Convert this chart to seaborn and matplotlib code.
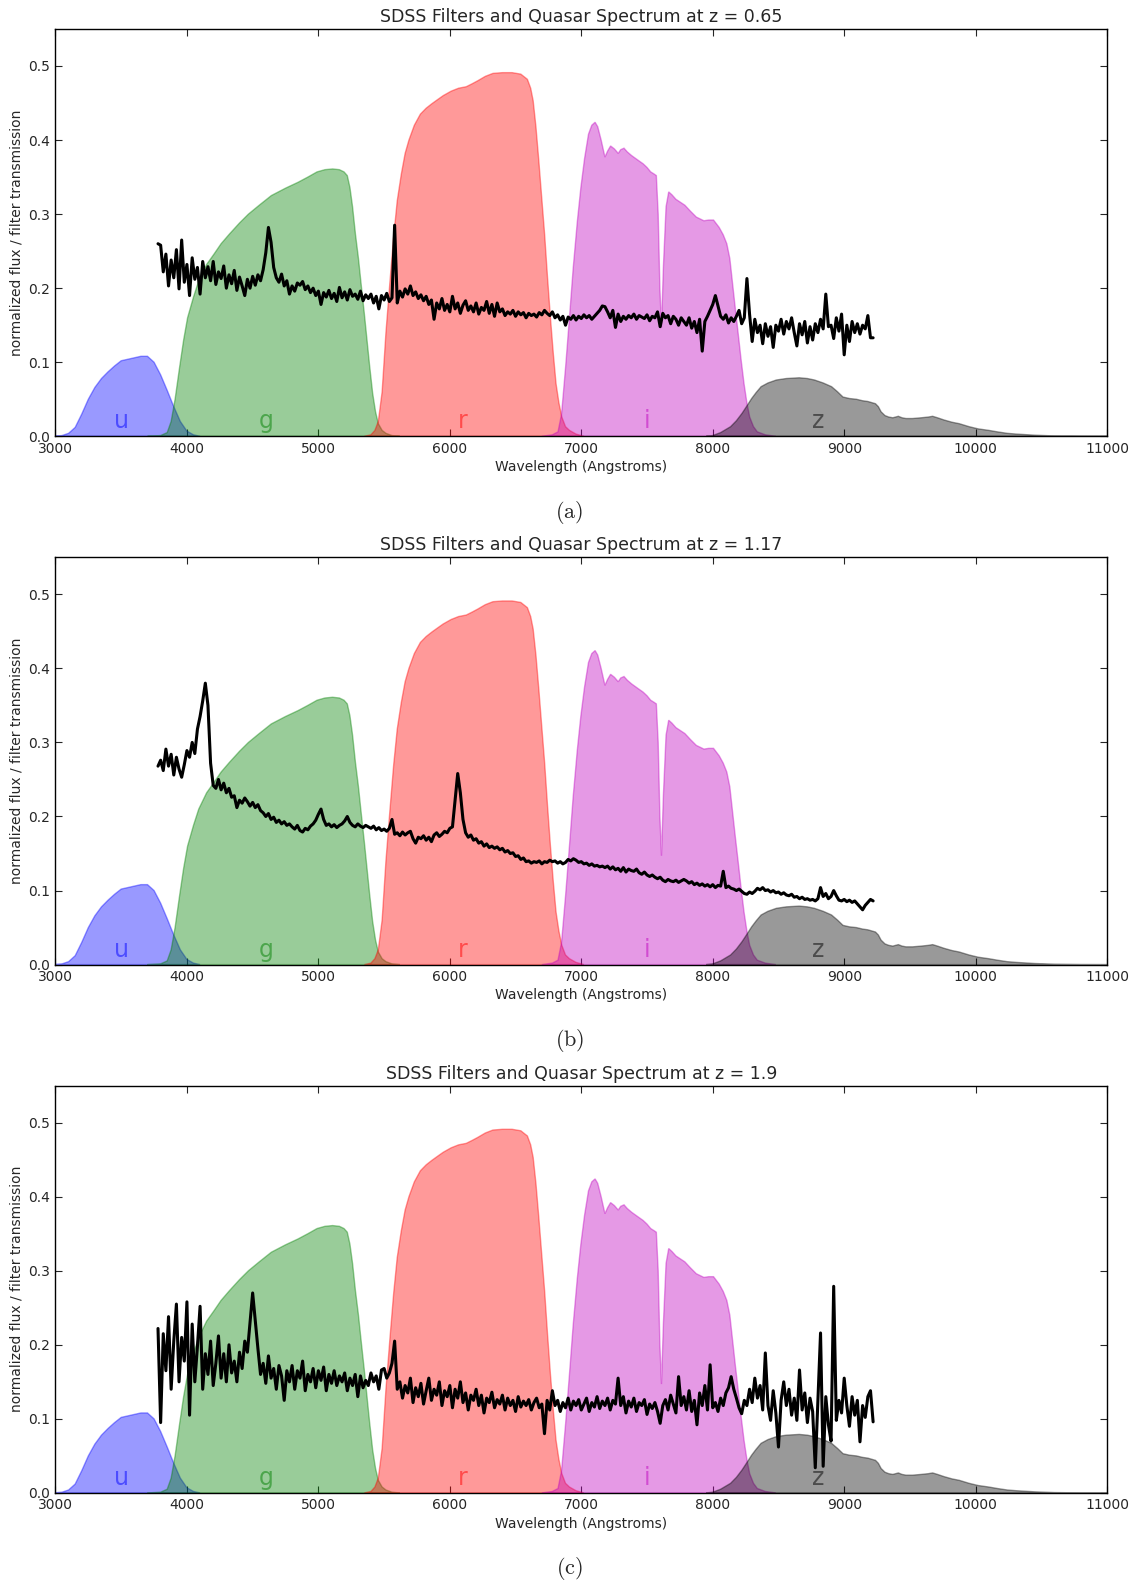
import numpy as np
import matplotlib
matplotlib.use("Agg")
import matplotlib.pyplot as plt
import seaborn as sns

# %%
# SDSS filter curves (transmission already scaled by 0.4)
u_wave = [2980, 3050, 3100, 3150, 3200, 3250, 3300, 3350, 3400, 3450, 3500, 3550, 3600, 3650,
          3700, 3750, 3800, 3850, 3900, 3950, 4000, 4050, 4100]
u_trans = [0, 0.001, 0.004, 0.012, 0.030, 0.050, 0.066, 0.078, 0.087, 0.095, 0.102, 0.104, 0.106, 0.108,
           0.108, 0.100, 0.083, 0.062, 0.040, 0.020, 0.007, 0.002, 0]

g_wave = [3700, 3800, 3850, 3880, 3910, 3945, 3975, 4005, 4050, 4090, 4150, 4206, 4260, 4323, 4400,
          4468, 4550, 4642, 4750, 4846, 4920, 4990, 5050, 5108, 5160, 5195, 5220, 5240, 5260, 5282,
          5305, 5325, 5350, 5370, 5390, 5413, 5435, 5456, 5485, 5514, 5560, 5620]
g_trans = [0, 0.001, 0.005, 0.020, 0.050, 0.094, 0.130, 0.160, 0.188, 0.210, 0.232, 0.246, 0.260, 0.273, 0.288,
           0.300, 0.312, 0.325, 0.335, 0.343, 0.350, 0.357, 0.360, 0.361, 0.360, 0.357, 0.352, 0.336, 0.310, 0.273,
           0.240, 0.206, 0.165, 0.130, 0.095, 0.058, 0.033, 0.017, 0.008, 0.004, 0.001, 0]

r_wave = [5350, 5400, 5430, 5456, 5485, 5514, 5545, 5573, 5600, 5631, 5660, 5689, 5730, 5776, 5820,
          5863, 5910, 5950, 6010, 6067, 6125, 6170, 6212, 6270, 6328, 6400, 6474, 6540, 6590, 6615,
          6634, 6655, 6677, 6700, 6721, 6743, 6765, 6787, 6808, 6830, 6852, 6880, 6910, 6960, 7020]
r_trans = [0, 0.002, 0.008, 0.020, 0.060, 0.140, 0.210, 0.270, 0.318, 0.354, 0.382, 0.400, 0.420, 0.435, 0.443,
           0.449, 0.455, 0.460, 0.466, 0.470, 0.472, 0.476, 0.480, 0.486, 0.490, 0.491, 0.491, 0.489, 0.482, 0.470,
           0.453, 0.418, 0.372, 0.320, 0.273, 0.215, 0.161, 0.112, 0.071, 0.045, 0.026, 0.013, 0.008, 0.003, 0]

i_wave = [6700, 6780, 6823, 6850, 6881, 6910, 6939, 6970, 6997, 7025, 7055, 7080, 7105, 7125, 7151,
          7180, 7200, 7223, 7252, 7281, 7300, 7325, 7350, 7383, 7430, 7470, 7500, 7528, 7555, 7571,
          7585, 7598, 7610, 7625, 7645, 7665, 7690, 7720, 7788, 7830, 7875, 7933, 7970, 8006, 8049,
          8080, 8107, 8130, 8151, 8172, 8194, 8216, 8238, 8260, 8281, 8310, 8339, 8400, 8480]
i_trans = [0, 0.002, 0.006, 0.030, 0.094, 0.160, 0.228, 0.290, 0.336, 0.375, 0.408, 0.420, 0.424, 0.418, 0.400,
           0.377, 0.385, 0.392, 0.388, 0.382, 0.387, 0.389, 0.384, 0.379, 0.373, 0.368, 0.363, 0.357, 0.354, 0.352,
           0.300, 0.200, 0.147, 0.230, 0.310, 0.330, 0.326, 0.320, 0.312, 0.304, 0.296, 0.291, 0.292, 0.292, 0.282,
           0.272, 0.260, 0.240, 0.206, 0.172, 0.138, 0.103, 0.071, 0.045, 0.026, 0.013, 0.006, 0.002, 0]

z_wave = [7950, 8000, 8060, 8136, 8180, 8223, 8260, 8296, 8330, 8368, 8420, 8484, 8560, 8658, 8720,
          8774, 8840, 8904, 8950, 8991, 9040, 9093, 9140, 9180, 9238, 9260, 9281, 9310, 9339, 9370,
          9412, 9440, 9470, 9520, 9586, 9640, 9673, 9710, 9760, 9820, 9876, 9950, 10020, 10100, 10165,
          10240, 10310, 10450, 10600, 10800, 11000]
z_trans = [0, 0.001, 0.005, 0.013, 0.021, 0.031, 0.041, 0.051, 0.059, 0.067, 0.072, 0.076, 0.078, 0.079, 0.078,
           0.076, 0.072, 0.067, 0.060, 0.053, 0.051, 0.050, 0.048, 0.047, 0.044, 0.040, 0.033, 0.028, 0.026, 0.025,
           0.027, 0.025, 0.024, 0.024, 0.025, 0.026, 0.027, 0.025, 0.022, 0.019, 0.017, 0.013, 0.010, 0.008, 0.006,
           0.004, 0.003, 0.0015, 0.0005, 0.0001, 0]

filter_names = ["u", "g", "r", "i", "z"]
filter_colors = ["b", "g", "r", "m", "k"]
label_pos = [3500, 4600, 6100, 7500, 8800]

# %%
# quasar spectra, sampled every 20 Angstroms from 3780 to 9220
spec_wave = np.arange(3780, 9221, 20)

flux_z065 = [
    0.260, 0.258, 0.222, 0.246, 0.203, 0.238, 0.214, 0.252, 0.199, 0.265,
    0.208, 0.232, 0.190, 0.241, 0.212, 0.228, 0.192, 0.236, 0.214, 0.229,
    0.210, 0.236, 0.205, 0.222, 0.213, 0.230, 0.200, 0.218, 0.206, 0.224,
    0.197, 0.215, 0.203, 0.190, 0.212, 0.200, 0.216, 0.204, 0.218, 0.210,
    0.225, 0.248, 0.282, 0.262, 0.228, 0.214, 0.208, 0.219, 0.203, 0.210,
    0.192, 0.203, 0.196, 0.207, 0.204, 0.209, 0.198, 0.203, 0.194, 0.200,
    0.190, 0.196, 0.178, 0.194, 0.188, 0.197, 0.186, 0.193, 0.182, 0.201,
    0.187, 0.195, 0.184, 0.198, 0.189, 0.192, 0.185, 0.196, 0.183, 0.191,
    0.186, 0.192, 0.180, 0.189, 0.172, 0.190, 0.184, 0.193, 0.182, 0.187,
    0.285, 0.180, 0.196, 0.188, 0.199, 0.192, 0.203, 0.190, 0.195, 0.186,
    0.191, 0.183, 0.189, 0.178, 0.184, 0.158, 0.180, 0.172, 0.186, 0.170,
    0.178, 0.168, 0.189, 0.172, 0.180, 0.166, 0.177, 0.183, 0.170, 0.176,
    0.168, 0.180, 0.165, 0.174, 0.170, 0.182, 0.166, 0.178, 0.162, 0.180,
    0.168, 0.172, 0.163, 0.168, 0.165, 0.170, 0.162, 0.168, 0.164, 0.167,
    0.160, 0.166, 0.163, 0.165, 0.161, 0.167, 0.164, 0.170, 0.166, 0.163,
    0.168, 0.160, 0.164, 0.157, 0.162, 0.150, 0.161, 0.158, 0.163, 0.157,
    0.162, 0.159, 0.164, 0.160, 0.163, 0.158, 0.162, 0.166, 0.170, 0.176,
    0.175, 0.168, 0.160, 0.170, 0.147, 0.165, 0.155, 0.162, 0.158, 0.163,
    0.160, 0.165, 0.158, 0.163, 0.161, 0.159, 0.164, 0.156, 0.162, 0.160,
    0.168, 0.148, 0.166, 0.160, 0.163, 0.152, 0.162, 0.158, 0.150, 0.160,
    0.155, 0.150, 0.160, 0.146, 0.155, 0.140, 0.158, 0.115, 0.155, 0.162,
    0.170, 0.178, 0.190, 0.176, 0.162, 0.158, 0.164, 0.153, 0.160, 0.155,
    0.162, 0.170, 0.152, 0.160, 0.213, 0.165, 0.128, 0.158, 0.140, 0.150,
    0.125, 0.152, 0.135, 0.148, 0.120, 0.150, 0.142, 0.158, 0.138, 0.155,
    0.145, 0.160, 0.140, 0.122, 0.152, 0.137, 0.155, 0.126, 0.148, 0.130,
    0.152, 0.140, 0.158, 0.145, 0.192, 0.148, 0.150, 0.132, 0.160, 0.142,
    0.165, 0.110, 0.150, 0.128, 0.155, 0.140, 0.152, 0.138, 0.150, 0.145,
    0.163, 0.133, 0.133,
]

flux_z117 = [
    0.268, 0.276, 0.262, 0.291, 0.268, 0.284, 0.256, 0.280, 0.264, 0.253,
    0.270, 0.289, 0.280, 0.300, 0.285, 0.318, 0.335, 0.356, 0.380, 0.350,
    0.272, 0.242, 0.238, 0.250, 0.236, 0.245, 0.232, 0.238, 0.226, 0.228,
    0.212, 0.222, 0.218, 0.225, 0.220, 0.214, 0.219, 0.212, 0.216, 0.208,
    0.205, 0.200, 0.204, 0.196, 0.199, 0.192, 0.195, 0.190, 0.193, 0.188,
    0.190, 0.186, 0.183, 0.188, 0.181, 0.179, 0.184, 0.182, 0.187, 0.190,
    0.195, 0.203, 0.210, 0.196, 0.188, 0.190, 0.186, 0.189, 0.185, 0.188,
    0.190, 0.194, 0.200, 0.192, 0.188, 0.186, 0.190, 0.187, 0.185, 0.188,
    0.186, 0.184, 0.187, 0.182, 0.185, 0.181, 0.183, 0.180, 0.184, 0.196,
    0.176, 0.178, 0.174, 0.179, 0.175, 0.178, 0.180, 0.170, 0.164, 0.172,
    0.170, 0.174, 0.168, 0.172, 0.166, 0.175, 0.178, 0.173, 0.176, 0.180,
    0.178, 0.184, 0.186, 0.222, 0.258, 0.232, 0.196, 0.178, 0.172, 0.175,
    0.168, 0.170, 0.164, 0.166, 0.160, 0.163, 0.158, 0.160, 0.157, 0.159,
    0.155, 0.157, 0.152, 0.154, 0.150, 0.151, 0.146, 0.147, 0.142, 0.144,
    0.139, 0.140, 0.137, 0.139, 0.138, 0.140, 0.136, 0.139, 0.138, 0.141,
    0.139, 0.140, 0.137, 0.139, 0.136, 0.138, 0.142, 0.140, 0.143, 0.141,
    0.138, 0.139, 0.136, 0.137, 0.134, 0.136, 0.133, 0.134, 0.132, 0.133,
    0.131, 0.133, 0.129, 0.132, 0.128, 0.130, 0.126, 0.131, 0.125, 0.129,
    0.127, 0.126, 0.129, 0.124, 0.122, 0.125, 0.121, 0.119, 0.121, 0.118,
    0.116, 0.118, 0.114, 0.112, 0.115, 0.113, 0.112, 0.114, 0.111, 0.113,
    0.115, 0.113, 0.110, 0.112, 0.108, 0.110, 0.107, 0.109, 0.106, 0.108,
    0.105, 0.108, 0.104, 0.107, 0.106, 0.126, 0.104, 0.106, 0.103, 0.102,
    0.100, 0.102, 0.099, 0.096, 0.095, 0.098, 0.096, 0.099, 0.103, 0.101,
    0.104, 0.100, 0.101, 0.098, 0.100, 0.097, 0.098, 0.095, 0.097, 0.094,
    0.093, 0.095, 0.091, 0.092, 0.089, 0.091, 0.088, 0.089, 0.087, 0.088,
    0.086, 0.089, 0.104, 0.092, 0.096, 0.089, 0.092, 0.100, 0.093, 0.087,
    0.086, 0.088, 0.085, 0.087, 0.084, 0.086, 0.082, 0.078, 0.074, 0.080,
    0.084, 0.088, 0.086,
]

flux_z190 = [
    0.222, 0.095, 0.215, 0.165, 0.238, 0.140, 0.205, 0.255, 0.150, 0.210,
    0.178, 0.258, 0.105, 0.228, 0.150, 0.198, 0.252, 0.140, 0.188, 0.160,
    0.205, 0.145, 0.175, 0.212, 0.155, 0.188, 0.150, 0.200, 0.162, 0.178,
    0.150, 0.190, 0.168, 0.205, 0.190, 0.230, 0.270, 0.232, 0.195, 0.160,
    0.175, 0.148, 0.185, 0.155, 0.168, 0.140, 0.172, 0.158, 0.125, 0.165,
    0.150, 0.172, 0.140, 0.165, 0.155, 0.178, 0.138, 0.160, 0.150, 0.168,
    0.142, 0.165, 0.152, 0.170, 0.138, 0.160, 0.148, 0.165, 0.145, 0.158,
    0.150, 0.162, 0.138, 0.155, 0.145, 0.160, 0.130, 0.158, 0.142, 0.152,
    0.145, 0.162, 0.150, 0.158, 0.140, 0.166, 0.168, 0.155, 0.162, 0.175,
    0.205, 0.140, 0.150, 0.128, 0.145, 0.135, 0.155, 0.122, 0.142, 0.130,
    0.148, 0.120, 0.138, 0.155, 0.125, 0.140, 0.132, 0.150, 0.118, 0.138,
    0.130, 0.145, 0.115, 0.140, 0.128, 0.150, 0.122, 0.135, 0.112, 0.132,
    0.125, 0.140, 0.118, 0.132, 0.108, 0.128, 0.122, 0.136, 0.115, 0.126,
    0.120, 0.132, 0.112, 0.128, 0.118, 0.125, 0.110, 0.130, 0.116, 0.124,
    0.118, 0.126, 0.112, 0.122, 0.128, 0.115, 0.120, 0.080, 0.125, 0.112,
    0.138, 0.118, 0.125, 0.110, 0.122, 0.115, 0.128, 0.112, 0.124, 0.118,
    0.126, 0.112, 0.120, 0.128, 0.110, 0.122, 0.116, 0.130, 0.114, 0.124,
    0.118, 0.128, 0.112, 0.125, 0.120, 0.155, 0.118, 0.130, 0.108, 0.124,
    0.116, 0.128, 0.110, 0.122, 0.118, 0.126, 0.106, 0.120, 0.114, 0.122,
    0.110, 0.094, 0.118, 0.126, 0.112, 0.132, 0.120, 0.108, 0.157, 0.118,
    0.130, 0.112, 0.138, 0.110, 0.125, 0.092, 0.135, 0.118, 0.145, 0.112,
    0.173, 0.115, 0.122, 0.110, 0.128, 0.118, 0.135, 0.142, 0.157, 0.140,
    0.128, 0.115, 0.107, 0.125, 0.118, 0.140, 0.122, 0.155, 0.128, 0.145,
    0.112, 0.189, 0.118, 0.098, 0.138, 0.108, 0.062, 0.125, 0.150, 0.118,
    0.140, 0.105, 0.128, 0.098, 0.166, 0.112, 0.135, 0.095, 0.128, 0.110,
    0.034, 0.125, 0.216, 0.036, 0.130, 0.092, 0.070, 0.279, 0.098, 0.125,
    0.108, 0.155, 0.118, 0.090, 0.130, 0.105, 0.125, 0.069, 0.118, 0.102,
    0.130, 0.138, 0.096,
]

redshifts = ["0.65", "1.17", "1.9"]
spectra = [flux_z065, flux_z117, flux_z190]
captions = ["(a)", "(b)", "(c)"]

# %%
sns.set_style("ticks", {"xtick.direction": "in", "ytick.direction": "in",
                        "axes.edgecolor": "black"})
plt.rcParams["font.family"] = ["DejaVu Sans"]
plt.rcParams["mathtext.fontset"] = "cm"

filters = [(u_wave, u_trans), (g_wave, g_trans), (r_wave, r_trans), (i_wave, i_trans), (z_wave, z_trans)]

fig, axes = plt.subplots(3, 1, figsize=(11.39, 15.82), dpi=100)
fig.subplots_adjust(left=0.0487, right=0.972, top=0.9817, bottom=0.0563, hspace=0.297)

for ax, z, flux, cap in zip(axes, redshifts, spectra, captions):
    for (w, t), name, c, loc in zip(filters, filter_names, filter_colors, label_pos):
        ax.fill(w, t, ec=c, fc=c, alpha=0.4, lw=1)
        ax.text(loc, 0.02, name, color=c, fontsize=17, ha="center", va="center", alpha=0.5)
    sns.lineplot(x=spec_wave, y=flux, color="k", lw=2.2, ax=ax)

    ax.set_xlim(3000, 11000)
    ax.set_ylim(0, 0.55)
    ax.set_xticks(range(3000, 11001, 1000))
    ax.set_yticks([0.0, 0.1, 0.2, 0.3, 0.4, 0.5])
    ax.tick_params(top=True, right=True, length=5, width=0.8, labelsize=10, pad=4)
    for s in ax.spines.values():
        s.set_linewidth(1.0)
    ax.set_xlabel("Wavelength (Angstroms)", fontsize=10, labelpad=3)
    ax.set_ylabel("normalized flux / filter transmission", fontsize=10, labelpad=3)
    ax.set_title("SDSS Filters and Quasar Spectrum at z = " + z, fontsize=12.5, pad=5)

    pos = ax.get_position()
    fig.text(0.5, pos.y0 - 0.048, r"$(\mathrm{" + cap[1] + "})$", fontsize=16,
             ha="center", va="center")

fig.savefig("out.png", dpi=100)
